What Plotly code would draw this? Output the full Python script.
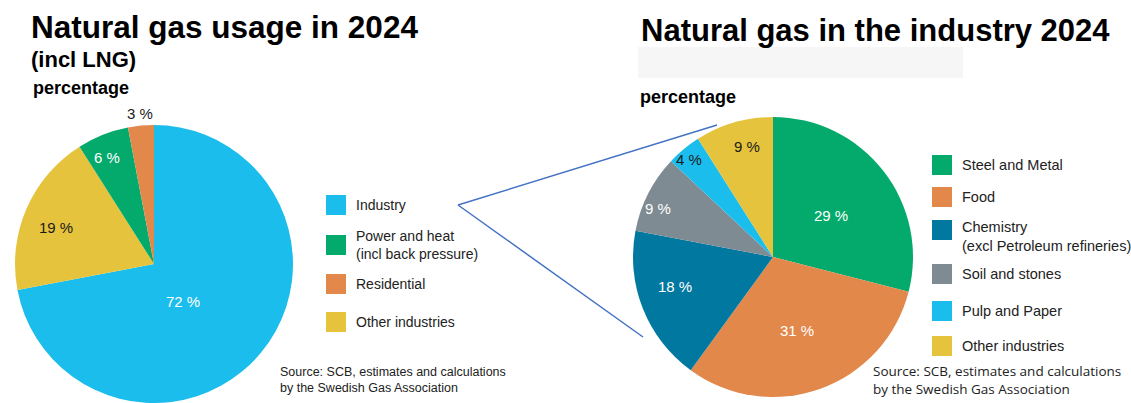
import math
import plotly.graph_objects as go

W, H = 1131, 403

# Natural gas usage 2024 (incl LNG), slices clockwise from 12 o'clock
usage_labels = ["Industry", "Other industries", "Power and heat", "Residential"]
usage_values = [72, 19, 6, 3]
usage_legend = ["Industry", "Power and heat\n(incl back pressure)", "Residential", "Other industries"]

# Natural gas in the industry 2024, slices clockwise from 12 o'clock
industry_labels = ["Steel and Metal", "Food", "Chemistry", "Soil and stones",
                   "Pulp and Paper", "Other industries"]
industry_values = [29, 31, 18, 9, 4, 9]
industry_legend = ["Steel and Metal", "Food", "Chemistry\n(excl Petroleum refineries)",
                   "Soil and stones", "Pulp and Paper", "Other industries"]

BLUE = "#1bbdec"
GREEN = "#03aa6c"
ORANGE = "#e2884b"
YELLOW = "#e6c33d"
DARKBLUE = "#00789f"
GRAY = "#7f8b92"
DARK = "#1a1a1a"

usage_colors = {"Industry": BLUE, "Other industries": YELLOW,
                "Power and heat": GREEN, "Residential": ORANGE}
industry_colors = {"Steel and Metal": GREEN, "Food": ORANGE, "Chemistry": DARKBLUE,
                   "Soil and stones": GRAY, "Pulp and Paper": BLUE,
                   "Other industries": YELLOW}


def px(x):
    return x / W


def py(y):
    return 1 - y / H


# pie geometry in pixels (centre x, centre y from top, radius)
L_CX, L_CY, L_R = 154, 264, 139
R_CX, R_CY, R_R = 773, 257, 140


def domain(cx, cy, r):
    return dict(x=[px(cx - r), px(cx + r)], y=[py(cy + r), py(cy - r)])


fig = go.Figure()
fig.add_trace(go.Pie(
    labels=usage_labels, values=usage_values, sort=False, direction="clockwise",
    rotation=0, textinfo="none", showlegend=False,
    marker=dict(colors=[usage_colors[l] for l in usage_labels], line=dict(width=0)),
    domain=domain(L_CX, L_CY, L_R),
))
fig.add_trace(go.Pie(
    labels=industry_labels, values=industry_values, sort=False, direction="clockwise",
    rotation=0, textinfo="none", showlegend=False,
    marker=dict(colors=[industry_colors[l] for l in industry_labels], line=dict(width=0)),
    domain=domain(R_CX, R_CY, R_R),
))

annotations = []
shapes = []

LABEL_FONT = "Liberation Sans, Arial, sans-serif"


def slice_labels(values, cx, cy, r, placement, colors):
    total = sum(values)
    cum = 0
    for v, (rf, shift), col in zip(values, placement, colors):
        ang = math.radians((cum + v / 2) / total * 360 + shift)
        cum += v
        x = cx + rf * r * math.sin(ang)
        y = cy - rf * r * math.cos(ang)
        annotations.append(dict(
            x=px(x), y=py(y), xref="paper", yref="paper", showarrow=False,
            text=f"{v} %", xanchor="center", yanchor="middle",
            font=dict(family=LABEL_FONT, size=15, color=col)))


slice_labels(usage_values, L_CX, L_CY, L_R,
             [(0.34, 13), (0.75, -3), (0.84, -2), (1.09, 0)],
             ["white", DARK, "white", DARK])
slice_labels(industry_values, R_CX, R_CY, R_R,
             [(0.51, 2), (0.55, 2), (0.73, 5), (0.89, -4), (0.92, -1), (0.81, 3)],
             ["white", "white", "white", "white", DARK, DARK])


def legend(items, colors, x_sq, ys, two_line_shift, size=14):
    for text, col, y in zip(items, colors, ys):
        shapes.append(dict(type="rect", xref="paper", yref="paper",
                           x0=px(x_sq), x1=px(x_sq + 20), y0=py(y + 10), y1=py(y - 10),
                           fillcolor=col, line=dict(width=0)))
        lines = text.split("\n")
        yc = y + (two_line_shift if len(lines) > 1 else 0)
        annotations.append(dict(
            x=px(x_sq + 28), y=py(yc), xref="paper", yref="paper", showarrow=False,
            text="<br>".join(lines), xanchor="left", yanchor="middle", align="left",
            font=dict(family=LABEL_FONT, size=size, color="#222222")))


legend(usage_legend, [BLUE, GREEN, ORANGE, YELLOW], 326, [205, 245, 284, 322], 0)
legend(industry_legend, [GREEN, ORANGE, DARKBLUE, GRAY, BLUE, YELLOW], 932,
       [165, 197, 230, 274, 311, 346], 6, size=14.5)


def text(x, y, s, size, bold=False, family=LABEL_FONT, color="#111111"):
    annotations.append(dict(
        x=px(x), y=py(y), xref="paper", yref="paper", showarrow=False,
        text=f"<b>{s}</b>" if bold else s, xanchor="left", yanchor="middle", align="left",
        font=dict(family=family, size=size, color=color)))


text(29, 27, "Natural gas usage in 2024", 31.5, bold=True, color="#000000")
text(29, 60, "(incl LNG)", 22, bold=True, color="#000000")
text(31, 88, "percentage", 18, bold=True, color="#000000")
text(639, 31, "Natural gas in the industry 2024", 31, bold=True, color="#000000")
text(638, 97, "percentage", 18, bold=True, color="#000000")

text(278, 380, "Source: SCB, estimates and calculations<br>by the Swedish Gas Association",
     12.5, color="#222222")
text(871, 380, "Source: SCB, estimates and calculations<br>by the Swedish Gas Association",
     13.5, family="Open Sans, sans-serif", color="#222222")

# faint panel under the right-hand heading
shapes.append(dict(type="rect", xref="paper", yref="paper", layer="below",
                   x0=px(638), x1=px(963), y0=py(78), y1=py(47),
                   fillcolor="#f6f6f6", line=dict(width=0)))

# connector lines from the Industry legend entry to the industry pie
for x1, y1 in [(717, 125), (643, 337)]:
    shapes.append(dict(type="line", xref="paper", yref="paper",
                       x0=px(458), y0=py(205), x1=px(x1), y1=py(y1),
                       line=dict(color="#4472c4", width=1.5)))

fig.update_layout(
    width=W, height=H, margin=dict(l=0, r=0, t=0, b=0),
    paper_bgcolor="white", plot_bgcolor="white",
    annotations=annotations, shapes=shapes,
)

fig.write_html("out.html")
